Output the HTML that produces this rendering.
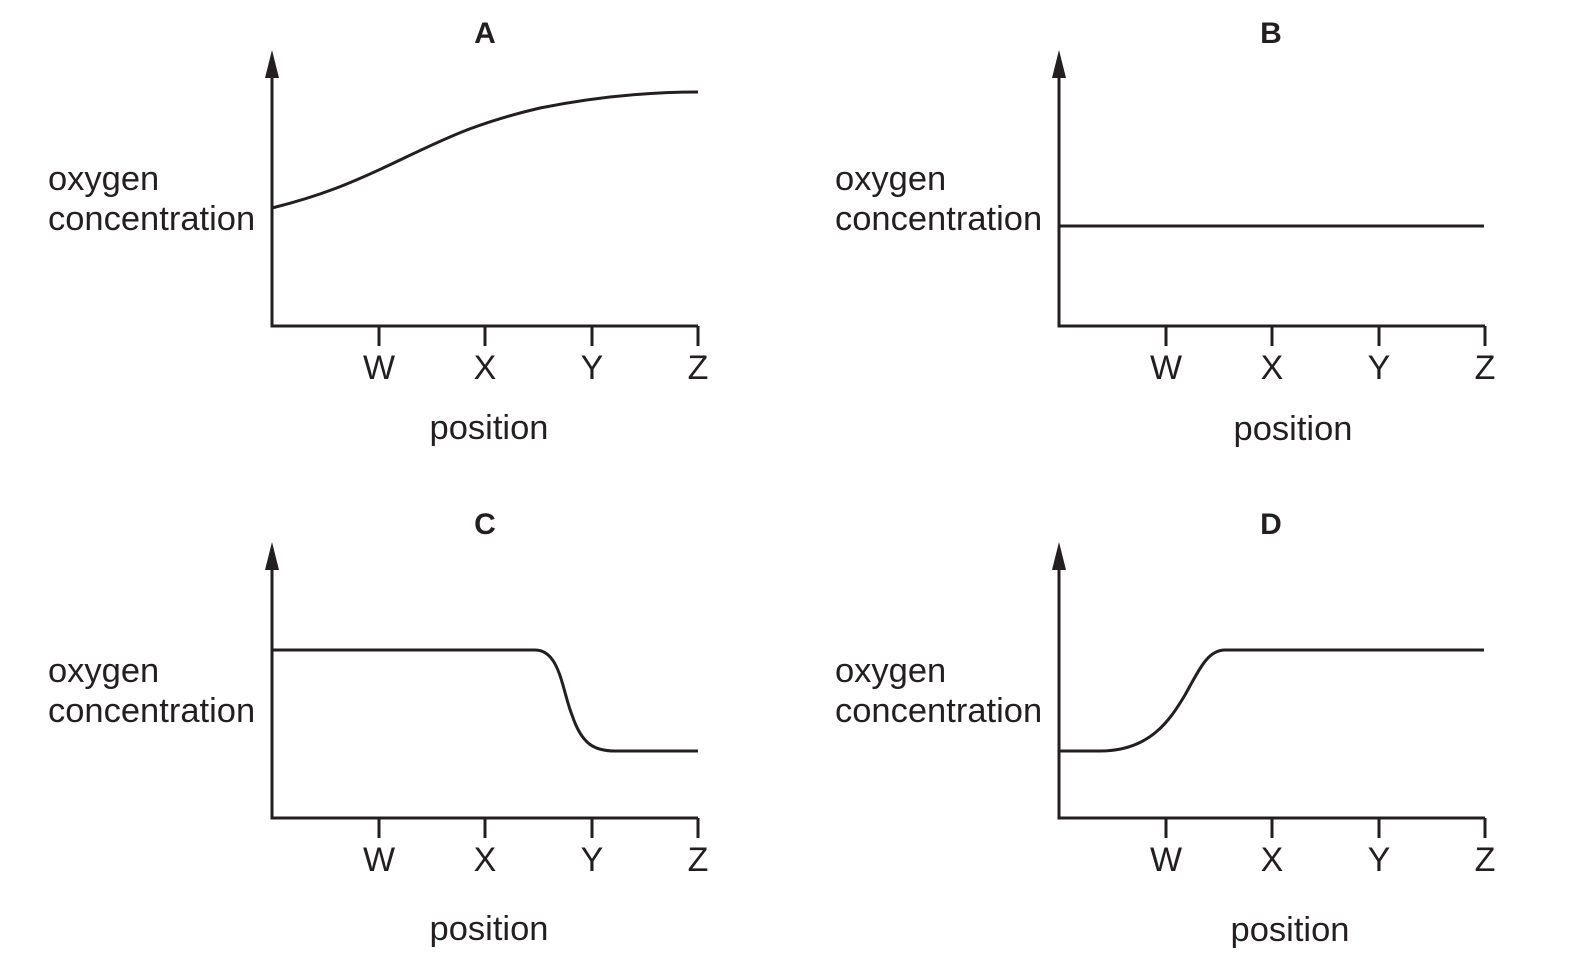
<!DOCTYPE html>
<html><head><style>
html,body{margin:0;padding:0;background:#fff;}
svg text{font-family:"Liberation Sans",Arial,sans-serif;fill:#231f20;}
</style></head><body>
<svg width="1570" height="955" viewBox="0 0 1570 955" xmlns="http://www.w3.org/2000/svg">
<defs>
<g id="ax">
<path d="M272 72 V326 H698" fill="none" stroke="#231f20" stroke-width="3"/>
<path d="M265 78 L272 50 L279 78 Z" fill="#231f20"/>
<path d="M379 326 V346 M485 326 V346 M592 326 V346 M698 326 V346" stroke="#231f20" stroke-width="3"/>
<text x="48" y="190" font-size="34.5">oxygen</text>
<text x="48" y="230" font-size="34.5">concentration</text>
<g font-size="34" text-anchor="middle">
<text x="379" y="379">W</text><text x="485" y="379">X</text><text x="592" y="379">Y</text><text x="698" y="379">Z</text>
</g>
</g>
</defs>
<use href="#ax"/>
<use href="#ax" transform="translate(787,0)"/>
<use href="#ax" transform="translate(0,492)"/>
<use href="#ax" transform="translate(787,492)"/>
<g font-size="34.5" text-anchor="middle">
<text x="489" y="439">position</text>
<text x="1293" y="440">position</text>
<text x="489" y="940">position</text>
<text x="1290" y="941">position</text>
</g>
<g font-size="30" font-weight="bold" text-anchor="middle">
<text x="485" y="43">A</text><text x="1271" y="43">B</text>
<text x="485" y="534">C</text><text x="1271" y="534">D</text>
</g>
<g fill="none" stroke="#231f20" stroke-width="3">
<path d="M272 208 C320 196 350 184 400 160 C450 136 480 122 540 108 C600 96 650 92 698 92"/>
<path d="M1059 226 H1484"/>
<path d="M272 650 H535 C560 650 562 690 572 715 C582 745 595 751 615 751 H698"/>
<path d="M1059 751 H1100 C1150 751 1170 720 1185 695 C1200 668 1208 650 1225 650 H1484"/>
</g>
</svg>
</body></html>
